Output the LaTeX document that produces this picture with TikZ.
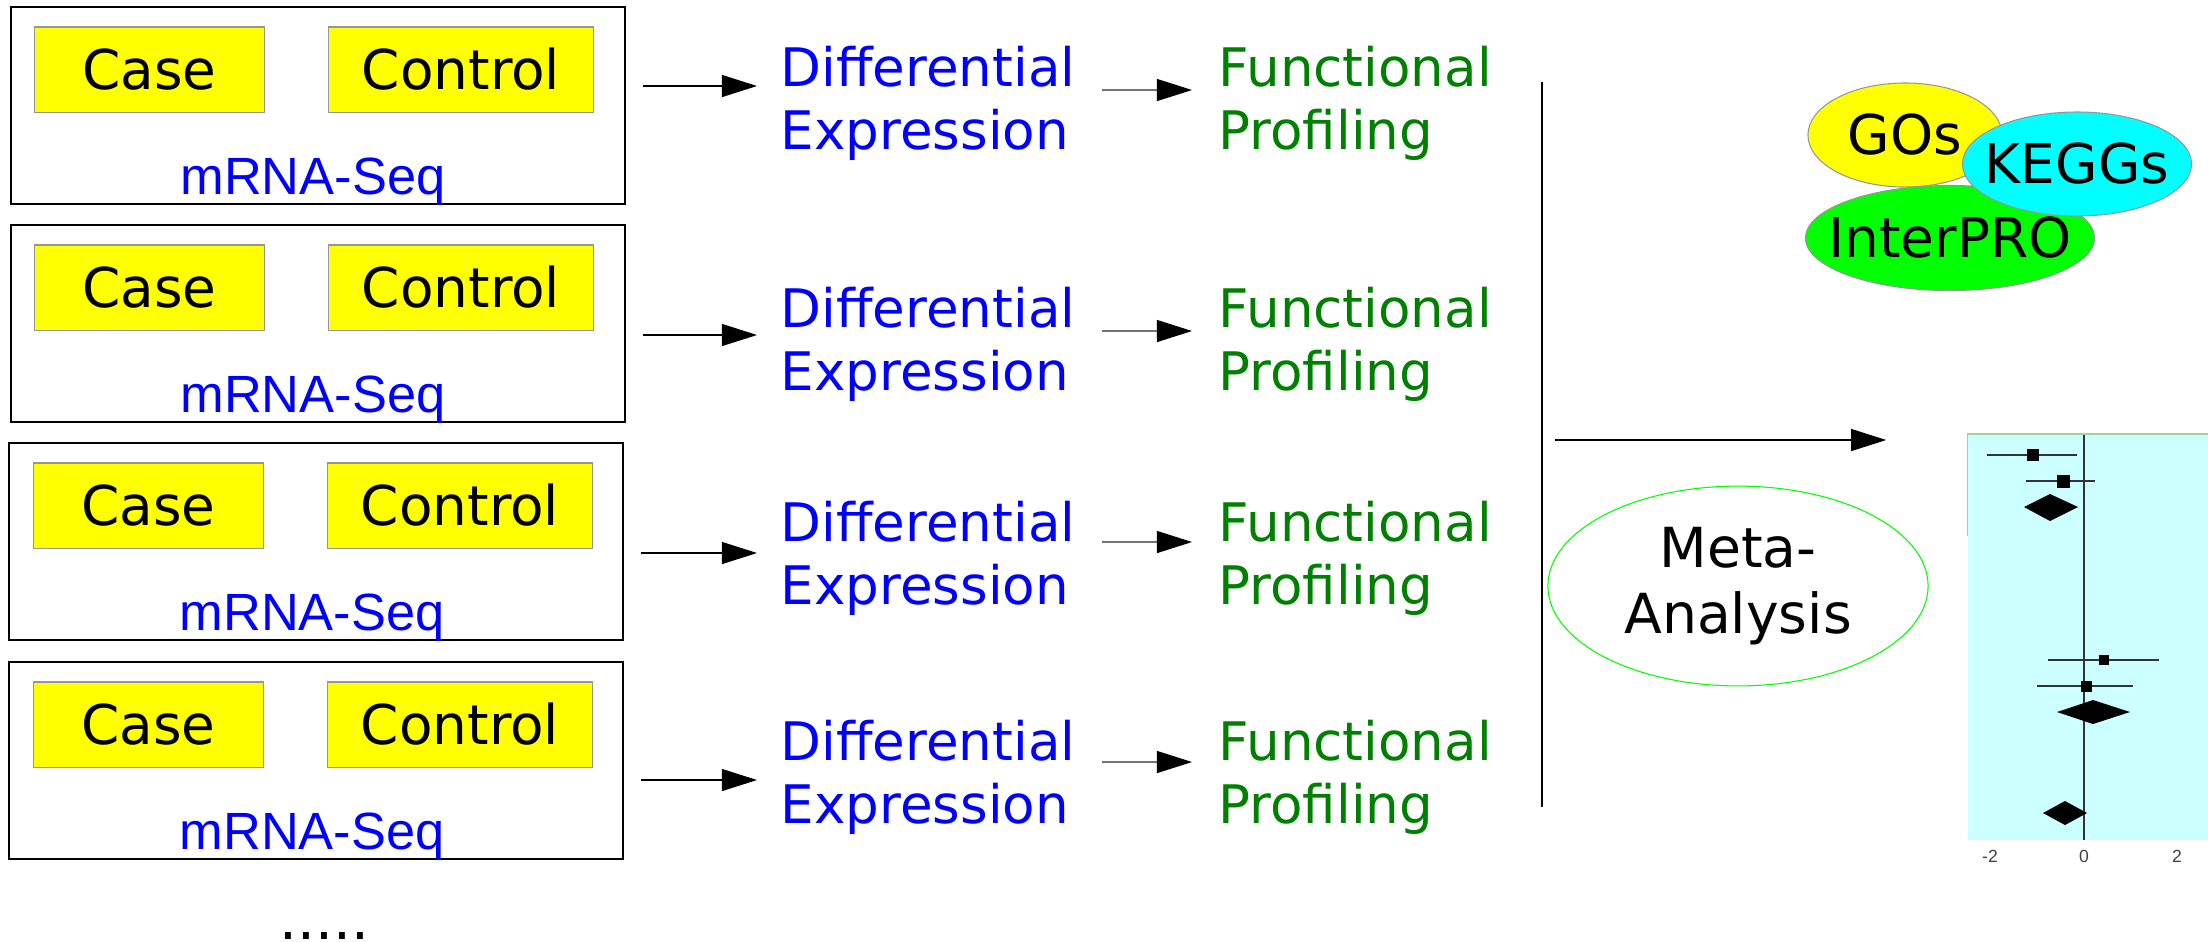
\documentclass[tikz,border=0pt]{standalone}
\usepackage{fontspec}
\setmainfont{DejaVu Sans}
\newfontfamily\arialfont{Liberation Sans}
\usetikzlibrary{arrows.meta,shapes.geometric}
\definecolor{fpgreen}{RGB}{0,128,0}
\definecolor{seqblue}{RGB}{0,0,255}
\definecolor{grpyellow}{RGB}{255,255,0}
\definecolor{goyellow}{RGB}{255,255,0}
\definecolor{keggcyan}{RGB}{0,255,255}
\definecolor{iprogreen}{RGB}{0,255,0}
\definecolor{forestbg}{RGB}{204,255,255}
\definecolor{forestrim}{RGB}{160,210,160}
\definecolor{boxrim}{RGB}{150,150,150}

\begin{document}
\begin{tikzpicture}[x=0.01cm, y=-0.01cm, font=\fontsize{15.6}{18.7}\selectfont,
      seqbox/.style={draw, line width=0.6pt, minimum width=6.13cm, minimum height=1.97cm},
      grpbox/.style={draw=boxrim, fill=grpyellow, line width=0.3pt, minimum height=0.85cm, inner sep=0pt},
      casebox/.style={grpbox, minimum width=2.29cm},
      ctrlbox/.style={grpbox, minimum width=2.64cm},
      seqlab/.style={text=seqblue, anchor=base, inner sep=0pt, font=\arialfont\fontsize{14.9}{17}\selectfont},
      detext/.style={text=seqblue, align=left, anchor=west, inner sep=0pt, font=\fontsize{15.1}{17.9}\selectfont},
      fptext/.style={detext, text=fpgreen},
      dbell/.style={ellipse, draw=boxrim, line width=0.3pt, inner sep=0pt},
      arr/.style={draw, line width=0.3pt, -{Triangle[length=3.5mm, width=2.2mm, color=black]}},
      arrone/.style={arr, shorten <=0.17cm, shorten >=0.23cm},
      arrtwo/.style={arr, draw=black!55, shorten <=0.26cm, shorten >=0.26cm},
      ticklab/.style={text=black!75, inner sep=0pt, font=\arialfont\fontsize{5}{6}\selectfont}]
      \useasboundingbox (0,0) rectangle (2208,941);
      %nodes
      \node[seqbox] (seq1) at (318,105.5) {};
      \node[casebox] (case1) at (149.5,69.5) {Case};
      \node[ctrlbox] (ctrl1) at (461,69.5) {Control};
      \node[seqlab] (lab1) at (313,194) {mRNA-Seq};
      \node[detext] (de1) at (780,103) {Differential\\Expression};
      \node[fptext] (fp1) at (1218,103) {Functional\\Profiling};
      \node[seqbox] (seq2) at (318,323.5) {};
      \node[casebox] (case2) at (149.5,287.5) {Case};
      \node[ctrlbox] (ctrl2) at (461,287.5) {Control};
      \node[seqlab] (lab2) at (313,412) {mRNA-Seq};
      \node[detext] (de2) at (780,344) {Differential\\Expression};
      \node[fptext] (fp2) at (1218,344) {Functional\\Profiling};
      \node[seqbox] (seq3) at (316,541.5) {};
      \node[casebox] (case3) at (148.5,505.5) {Case};
      \node[ctrlbox] (ctrl3) at (460,505.5) {Control};
      \node[seqlab] (lab3) at (312,630) {mRNA-Seq};
      \node[detext] (de3) at (780,558) {Differential\\Expression};
      \node[fptext] (fp3) at (1218,558) {Functional\\Profiling};
      \node[seqbox] (seq4) at (316,760.5) {};
      \node[casebox] (case4) at (148.5,724.5) {Case};
      \node[ctrlbox] (ctrl4) at (460,724.5) {Control};
      \node[seqlab] (lab4) at (312,849) {mRNA-Seq};
      \node[detext] (de4) at (780,777) {Differential\\Expression};
      \node[fptext] (fp4) at (1218,777) {Functional\\Profiling};
      \node[anchor=base west, inner sep=0pt, font=\fontsize{16}{19}\selectfont] (more) at (279,939) {.....};
      \node[dbell, fill=goyellow, minimum width=1.94cm, minimum height=1.04cm, label=center:GOs] (go) at (1905,135) {};
      \node[dbell, fill=iprogreen, minimum width=2.89cm, minimum height=1.05cm, label=center:InterPRO] (ipro) at (1950,238) {};
      \node[dbell, fill=keggcyan, minimum width=2.29cm, minimum height=1.04cm, label=center:KEGGs] (kegg) at (2077,164) {};
      \node[ellipse, draw=iprogreen, line width=0.3pt, minimum width=3.8cm, minimum height=1.95cm, align=center,
        font=\fontsize{15.7}{18.8}\selectfont] (meta) at (1738,586) {Meta-\\Analysis};
      \node[fill=forestbg, inner sep=0pt, minimum width=2.4cm, minimum height=4.05cm] (forest) at (2088,637.5) {};
      %edges
      \coordinate (a1) at (0,86);
      \coordinate (a2) at (0,335);
      \coordinate (a3) at (0,553);
      \coordinate (a4) at (0,780);
      \coordinate (b1) at (0,90);
      \coordinate (b2) at (0,331);
      \coordinate (b3) at (0,542);
      \coordinate (b4) at (0,762);
      \path [arrone] (seq1.east |- a1) -- (de1.west |- a1);
      \path [arrone] (seq2.east |- a2) -- (de2.west |- a2);
      \path [arrone] (seq3.east |- a3) -- (de3.west |- a3);
      \path [arrone] (seq4.east |- a4) -- (de4.west |- a4);
      \path [arrtwo] (de1.east |- b1) -- (fp1.west |- b1);
      \path [arrtwo] (de2.east |- b2) -- (fp2.west |- b2);
      \path [arrtwo] (de3.east |- b3) -- (fp3.west |- b3);
      \path [arrtwo] (de4.east |- b4) -- (fp4.west |- b4);
      \coordinate (bartop) at (1542,82);
      \coordinate (barbot) at (1542,807);
      \coordinate (m) at (0,440);
      \draw[line width=0.45pt] (bartop) -- (barbot);
      \path [arr, shorten <=0.13cm, shorten >=0.81cm] (bartop |- m) -- (forest.west |- m);
      %forest plot
      \draw[forestrim, line width=0.4pt] ([yshift=-1.02cm]forest.north west) -- (forest.north west) -- (forest.north east);
      \draw[black!80, line width=0.5pt] (2084,435) -- (2084,840);
      \draw[black!80, line width=0.4pt] (1987,455) -- (2077,455);
      \fill (2027,449) rectangle (2039,461);
      \draw[black!80, line width=0.4pt] (2026,481) -- (2095,481);
      \fill (2057,474.5) rectangle (2070,487.5);
      \fill (2024,507) -- (2050,494) -- (2078,507) -- (2050,521) -- cycle;
      \draw[black!80, line width=0.4pt] (2048,660) -- (2159,660);
      \fill (2099,655) rectangle (2109,665);
      \draw[black!80, line width=0.4pt] (2037,686) -- (2133,686);
      \fill (2081,680.5) rectangle (2092,691.5);
      \fill (2057,712) -- (2093,700) -- (2130,712) -- (2093,724) -- cycle;
      \fill (2043,813) -- (2065,801) -- (2087,813) -- (2065,825) -- cycle;
      \node[ticklab] (tm) at (1990,856) {-2};
      \node[ticklab] (tz) at (2084,856) {0};
      \node[ticklab] (tp) at (2177,856) {2};
\end{tikzpicture}
\end{document}
